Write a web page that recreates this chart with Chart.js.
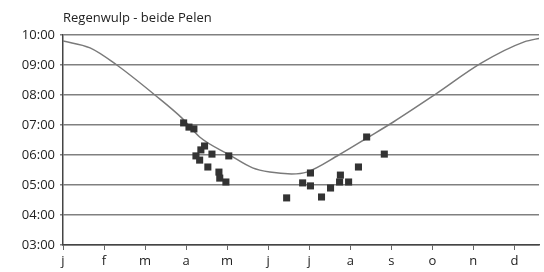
<!DOCTYPE html>
<html>
<head>
<meta charset="utf-8">
<script src="https://cdn.jsdelivr.net/npm/chart.js@4"></script>
<style>
  html, body { margin: 0; padding: 0; background: #fff; }
  #wrap { width: 544px; height: 272px; }
</style>
</head>
<body>
<div id="wrap"><canvas id="chart" width="544" height="272"></canvas></div>
<script>
// maanden (x = maandindex, 0 = januari)
const monthLabels = ['j', 'f', 'm', 'a', 'm', 'j', 'j', 'a', 's', 'o', 'n', 'd'];
const yTickLabels = ['03:00', '04:00', '05:00', '06:00', '07:00', '08:00', '09:00', '10:00'];

// lijn (tijd in uren)
const curveX = [0, 0.66, 1.31, 2.24, 2.9, 3.33, 4.06, 4.62, 5.04, 5.57, 5.94, 6.72, 7.45, 8.05, 9.05, 10.2, 11.24, 11.65];
const curveY = [9.80, 9.57, 9.0, 8.0, 7.23, 6.6, 6.0, 5.57, 5.43, 5.37, 5.43, 6.0, 6.6, 7.1, 8.0, 9.07, 9.77, 9.9];

// waarnemingen
const obsX = [2.94, 3.07, 3.19, 3.24, 3.36, 3.45, 3.33, 3.63, 3.53, 3.80, 3.82, 3.97, 4.04,
              5.45, 5.84, 6.03, 6.03, 6.30, 6.52, 6.76, 6.74, 6.96, 7.20, 7.40, 7.83];
const obsY = [7.07, 6.93, 6.87, 5.97, 6.17, 6.30, 5.83, 6.03, 5.60, 5.43, 5.23, 5.10, 5.97,
              4.57, 5.07, 5.40, 4.97, 4.60, 4.90, 5.33, 5.10, 5.10, 5.60, 6.60, 6.03];

const toPoints = (xs, ys) => xs.map((x, i) => ({ x: x, y: ys[i] }));

const font = { family: '"Open Sans", "DejaVu Sans", sans-serif', size: 13 };

new Chart(document.getElementById('chart'), {
    type: 'scatter',
    data: {
        datasets: [
            {
                label: 'lijn',
                data: toPoints(curveX, curveY),
                showLine: true,
                cubicInterpolationMode: 'monotone',
                borderColor: '#7a7a7a',
                borderWidth: 1.5,
                pointRadius: 0,
                order: 2
            },
            {
                label: 'waarnemingen',
                data: toPoints(obsX, obsY),
                pointStyle: 'rect',
                pointRadius: 5,
                backgroundColor: '#333',
                borderColor: '#333',
                borderWidth: 0,
                order: 1
            }
        ]
    },
    options: {
        responsive: false,
        animation: false,
        layout: { padding: { left: 0, right: 4, top: 0, bottom: 0 } },
        plugins: {
            legend: { display: false },
            tooltip: { enabled: false },
            title: {
                display: true,
                text: 'Regenwulp - beide Pelen',
                align: 'start',
                fullSize: false,
                color: '#222',
                font: { family: font.family, size: 13, weight: 'normal' },
                padding: { top: 10, bottom: 9.4 }
            }
        },
        scales: {
            x: {
                type: 'linear',
                min: 0,
                max: 11.6,
                afterFit: s => { s.height = 27; },
                afterBuildTicks: s => { s.ticks = monthLabels.map((_, i) => ({ value: i })); },
                border: { color: '#444', width: 1.5 },
                grid: { drawOnChartArea: false, tickLength: 5, color: '#666' },
                ticks: {
                    padding: 3,
                    color: '#222',
                    font: font,
                    maxRotation: 0,
                    autoSkip: false,
                    callback: v => monthLabels[v] ?? ''
                }
            },
            y: {
                min: 3,
                max: 10,
                afterFit: s => { s.width = 63; },
                border: { color: '#444', width: 1.5 },
                grid: { color: '#808080', lineWidth: 1.5, tickLength: 3 },
                ticks: {
                    stepSize: 1,
                    padding: 5,
                    color: '#222',
                    font: font,
                    callback: v => yTickLabels[v - 3] ?? ''
                }
            }
        }
    }
});
</script>
</body>
</html>
